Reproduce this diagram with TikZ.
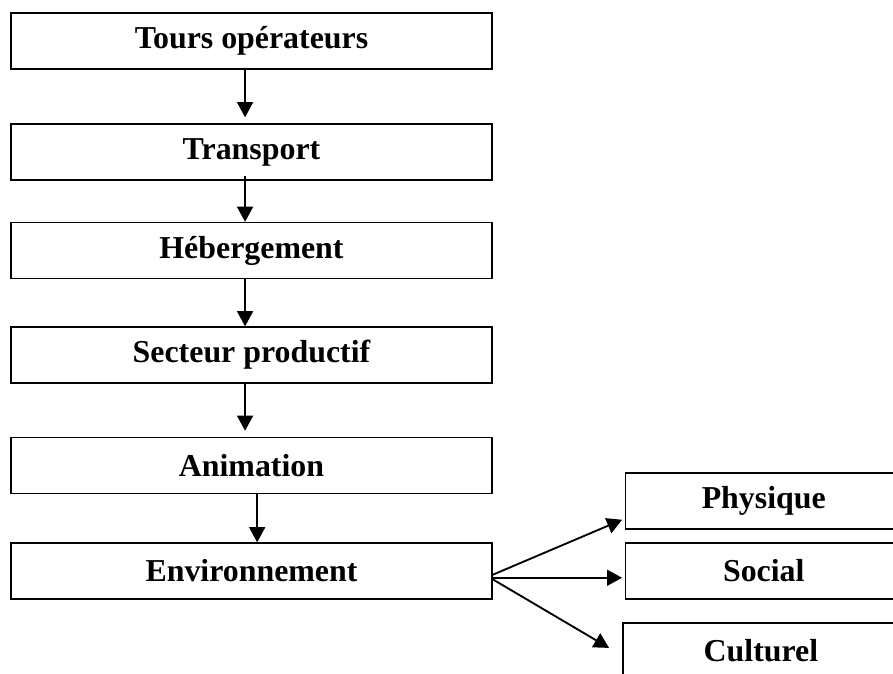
\documentclass[tikz,border=0pt]{standalone}
\usepackage{fontspec}
\setmainfont{Liberation Serif}
\usepackage{tikz}
\usetikzlibrary{arrows.meta, calc, positioning}
\tikzstyle{process} = [rectangle, minimum width=12.73cm, minimum height=1.48cm, text centered, draw=black, line width=1pt, font=\fontsize{24}{28}\selectfont\bfseries]
\tikzstyle{aspect} = [rectangle, minimum width=7.3cm, minimum height=1.48cm, text centered, draw=black, line width=1pt, font=\fontsize{24}{28}\selectfont\bfseries]
\tikzstyle{line} = [draw, line width=1.4pt, -{Triangle[length=0.4cm, width=0.42cm]}]
\begin{document}
\begin{tikzpicture}
  \useasboundingbox (0,0) rectangle (23.63,-17.81);
  \clip (0,0) rectangle (23.63,-17.81);

  \node (tours) [process, xshift=6.655cm, yshift=-1.085cm] {Tours opérateurs};

  \node (transport) [process, xshift=6.655cm, yshift=-4.022cm] {Transport};
  \path [line, shorten >=0.16cm] ([xshift=-0.17cm]tours.south) -- ([xshift=-0.17cm]transport.north);

  \node (hebergement) [process, xshift=6.655cm, yshift=-6.628cm] {Hébergement};
  \path [line] ([xshift=-0.17cm,yshift=0.13cm]transport.south) -- ([xshift=-0.17cm]hebergement.north);

  \node (secteur) [process, xshift=6.655cm, yshift=-9.393cm] {Secteur productif};
  \path [line] ([xshift=-0.17cm]hebergement.south) -- ([xshift=-0.17cm]secteur.north);

  \node (animation) [process, xshift=6.655cm, yshift=-12.317cm] {Animation};
  \path [line, shorten >=0.16cm] ([xshift=-0.17cm]secteur.south) -- ([xshift=-0.17cm]animation.north);

  \node (env) [process, xshift=6.655cm, yshift=-15.109cm] {Environnement};
  \path [line] ([xshift=0.15cm]animation.south) -- ([xshift=0.15cm]env.north);

  % trois aspects de l'environnement
  \node (physique) [aspect, xshift=20.21cm, yshift=-13.256cm] {Physique};
  \node (social) [aspect, xshift=20.21cm, yshift=-15.109cm] {Social};
  \node (culturel) [aspect, xshift=20.135cm, yshift=-17.225cm] {Culturel};

  \path [line] ([yshift=-0.1cm]env.east) -- ([xshift=-0.08cm,yshift=0.26cm]physique.south west);
  \path [line] ([yshift=-0.18cm]env.east) -- ([xshift=-0.08cm,yshift=-0.18cm]social.west);
  \path [line] ([yshift=-0.22cm]env.east) -- ([xshift=-0.35cm,yshift=0.08cm]culturel.west);
\end{tikzpicture}
\end{document}
